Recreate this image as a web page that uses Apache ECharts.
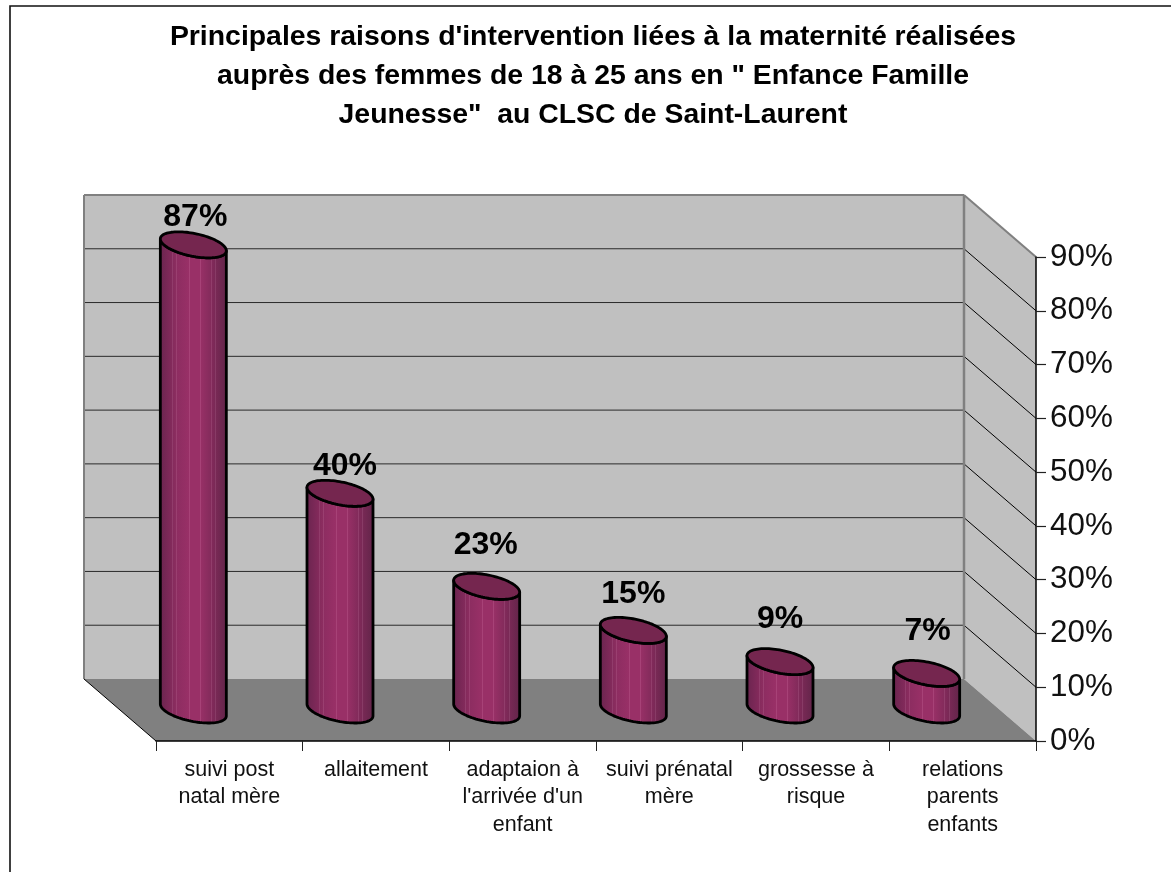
<!DOCTYPE html>
<html>
<head>
<meta charset="utf-8">
<style>html,body{margin:0;padding:0;background:#fff}#c{width:1171px;height:872px}</style>
<script src="https://cdn.jsdelivr.net/npm/echarts@6/dist/echarts.min.js"></script>
</head>
<body>
<div id="c"></div>
<script>
const titleText = "Principales raisons d'intervention liées à la maternité réalisées\nauprès des femmes de 18 à 25 ans en \" Enfance Famille\nJeunesse\"  au CLSC de Saint-Laurent";
const categories = ["suivi post\nnatal mère", "allaitement", "adaptaion à\nl'arrivée d'un\nenfant", "suivi prénatal\nmère", "grossesse à\nrisque", "relations\nparents\nenfants"];
const values = [86.5, 40.3, 23, 14.8, 9, 6.8];
const yMax = 90;
const yStep = 10;
const gridValues = [10, 20, 30, 40, 50, 60, 70, 80];

const FONT = '"Liberation Sans", Arial, sans-serif';
const DX = 72, DY = 62;          // projected depth of the 3D box
const HALF_X = 33, SKEW = 15, HALF_Y = 13; // projected cap ellipse
const WIDE = Math.sqrt(HALF_X * HALF_X - SKEW * SKEW);
const labelNudge = [[2, -28], [5, -27], [-1, -41], [0, -36], [0, -42], [1, -42]];

const stripes = [0.19, 0.25, 0.44, 0.6, 0.76, 0.82];
function bodyStops() {
  const base = [[0, [104, 36, 78]], [0.12, [122, 40, 86]], [0.35, [153, 48, 103]], [0.6, [153, 48, 103]], [0.85, [118, 40, 84]], [1, [96, 36, 72]]];
  const col = t => {
    for (let i = 1; i < base.length; i++) {
      if (t <= base[i][0]) {
        const k = (t - base[i - 1][0]) / (base[i][0] - base[i - 1][0]);
        return base[i - 1][1].map((c, j) => Math.round(c + (base[i][1][j] - c) * k));
      }
    }
    return base[base.length - 1][1];
  };
  const css = c => 'rgb(' + c.join(',') + ')';
  const stops = [];
  let last = 0;
  stripes.forEach(s => {
    stops.push({ offset: last, color: css(col(last)) }, { offset: s - 0.002, color: css(col(s)) });
    const pale = col(s).map((c, j) => Math.min(255, c + [14, 18, 16][j]));
    stops.push({ offset: s - 0.001, color: css(pale) }, { offset: s + 0.012, color: css(pale) });
    last = s + 0.013;
  });
  stops.push({ offset: last, color: css(col(last)) }, { offset: 1, color: css(col(1)) });
  return stops;
}

function ringPoint(cx, cy, t) {
  return [cx + WIDE * Math.cos(t) - SKEW * Math.sin(t), cy - HALF_Y * Math.sin(t)];
}

function renderBox(params, api) {
  const first = api.coord([0, 0])[0];
  const band = api.coord([1, 0])[0] - first;
  const x0 = first - band / 2;
  const x1 = x0 + band * categories.length;
  const y0 = api.coord([0, 0])[1];
  const yT = api.coord([0, yMax])[1];
  const kids = [];
  const poly = (pts, fill) => kids.push({ type: 'polygon', shape: { points: pts }, style: { fill: fill, stroke: null } });
  const line = (a, b, color, w) => kids.push({ type: 'line', shape: { x1: a[0], y1: a[1], x2: b[0], y2: b[1] }, style: { stroke: color, lineWidth: w } });
  poly([[x0 - DX, yT - DY], [x1 - DX, yT - DY], [x1 - DX, y0 - DY], [x0 - DX, y0 - DY]], '#c0c0c0');
  poly([[x1 - DX, yT - DY], [x1, yT], [x1, y0], [x1 - DX, y0 - DY]], '#c0c0c0');
  poly([[x0 - DX, y0 - DY], [x1 - DX, y0 - DY], [x1, y0], [x0, y0]], '#808080');
  gridValues.forEach(v => {
    const y = api.coord([0, v])[1];
    line([x0 - DX, y - DY], [x1 - DX, y - DY], '#2a2a2a', 1);
    line([x1 - DX, y - DY], [x1, y], '#000', 1);
  });
  line([x0 - DX, yT - DY], [x1 - DX, yT - DY], '#808080', 2);
  line([x0 - DX, yT - DY], [x0 - DX, y0 - DY], '#808080', 2);
  line([x1 - DX, yT - DY], [x1 - DX, y0 - DY], '#808080', 2.5);
  line([x1 - DX, yT - DY], [x1, yT], '#808080', 2);
  line([x0 - DX, y0 - DY], [x0, y0], '#000', 1);
  return { type: 'group', children: kids };
}

function renderCylinder(params, api) {
  const i = api.value(0);
  const base = api.coord([i, 0]);
  const top = api.coord([i, api.value(1)]);
  const cx = base[0] - DX / 2, by = base[1] - DY / 2, ty = top[1] - DY / 2;
  const a0 = Math.PI - Math.atan(SKEW / WIDE);
  const N = 48;
  const body = [], cap = [];
  for (let k = 0; k <= N; k++) body.push(ringPoint(cx, by, a0 + Math.PI * k / N));
  for (let k = N; k >= 0; k--) body.push(ringPoint(cx, ty, a0 + Math.PI * k / N));
  for (let k = 0; k < N * 2; k++) cap.push(ringPoint(cx, ty, Math.PI * k / N));
  const nudge = labelNudge[i];
  return {
    type: 'group',
    children: [
      { type: 'polygon', shape: { points: body }, style: {
        fill: new echarts.graphic.LinearGradient(0, 0, 1, 0, bodyStops()),
        stroke: '#000', lineWidth: 2.8, lineJoin: 'round' } },
      { type: 'polygon', shape: { points: cap }, style: { fill: '#75264f', stroke: '#000', lineWidth: 2.8, lineJoin: 'round' } },
      { type: 'text', style: { text: Math.round(values[i]) + '%', x: cx + nudge[0], y: ty + nudge[1],
        align: 'center', verticalAlign: 'middle', fill: '#000', font: 'bold 32px ' + FONT } }
    ]
  };
}

const chart = echarts.init(document.getElementById('c'), null, { renderer: 'canvas' });
chart.setOption({
  animation: false,
  backgroundColor: '#fff',
  title: {
    text: titleText, left: 588, top: 13, textAlign: 'center',
    textStyle: { fontFamily: FONT, fontWeight: 'bold', fontSize: 28.4, lineHeight: 39, color: '#000' }
  },
  graphic: [{ type: 'rect', shape: { x: 10, y: 6, width: 1300, height: 1000 }, style: { fill: 'none', stroke: '#111', lineWidth: 1.6 }, silent: true, z: -1 }],
  grid: { left: 156, right: 135, top: 257, bottom: 131, containLabel: false },
  xAxis: {
    type: 'category', data: categories, boundaryGap: true, z: 5,
    axisLine: { lineStyle: { color: '#000', width: 1.5 } },
    axisTick: { show: true, length: 10, lineStyle: { color: '#222', width: 1 } },
    axisLabel: { interval: 0, margin: 15, fontFamily: FONT, fontSize: 21.5, lineHeight: 27.5, color: '#111', align: 'center', verticalAlign: 'top' }
  },
  yAxis: {
    type: 'value', position: 'right', min: 0, max: yMax, interval: yStep, z: 5,
    splitLine: { show: false },
    axisLine: { show: true, lineStyle: { color: '#000', width: 1.5 } },
    axisTick: { show: true, length: 10, lineStyle: { color: '#222', width: 1.2 } },
    axisLabel: { margin: 14, fontFamily: FONT, fontSize: 31.4, color: '#111', formatter: '{value}%', padding: [5, 0, 0, 0] }
  },
  series: [
    { type: 'custom', coordinateSystem: 'cartesian2d', clip: false, z: 1, silent: true, data: [[0, 0]], renderItem: renderBox, encode: { x: 0, y: 1 } },
    { type: 'custom', coordinateSystem: 'cartesian2d', clip: false, z: 2, silent: true, data: values.map((v, i) => [i, v]), renderItem: renderCylinder, encode: { x: 0, y: 1 } }
  ]
});
</script>
</body>
</html>
